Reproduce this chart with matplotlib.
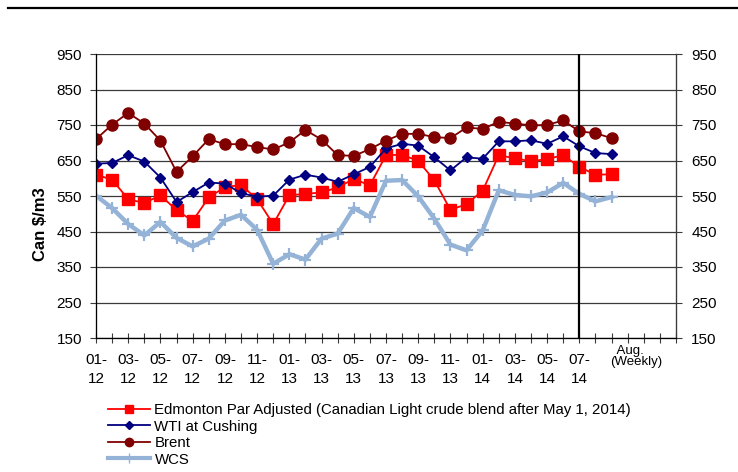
import matplotlib
matplotlib.use("Agg")
import matplotlib.pyplot as plt
from matplotlib.lines import Line2D

plt.rcParams['font.family'] = ['Liberation Sans', 'DejaVu Sans']

# ---- data (Can $/m3) ----
categories = ["01-\n12", "", "03-\n12", "", "05-\n12", "", "07-\n12", "", "09-\n12", "", "11-\n12", "",
              "01-\n13", "", "03-\n13", "", "05-\n13", "", "07-\n13", "", "09-\n13", "", "11-\n13", "",
              "01-\n14", "", "03-\n14", "", "05-\n14", "", "07-\n14", "", "", "", "", "", ""]

edmonton = [610, 596, 541, 530, 552, 510, 480, 546, 575, 581, 541, 471,
            552, 556, 560, 574, 598, 580, 665, 666, 649, 594, 511, 527,
            565, 665, 656, 648, 654, 665, 632, 610, 611]
wti = [641, 643, 665, 647, 602, 533, 561, 588, 585, 558, 548, 551,
       596, 610, 602, 590, 611, 632, 684, 697, 692, 659, 622, 659,
       655, 704, 704, 707, 697, 718, 690, 671, 668]
brent = [710, 751, 784, 754, 706, 618, 662, 710, 696, 696, 688, 681,
         701, 736, 709, 665, 663, 682, 706, 725, 725, 716, 713, 743,
         739, 759, 754, 749, 750, 763, 732, 727, 713]
wcs = [551, 516, 471, 439, 477, 432, 408, 430, 481, 497, 455, 359,
       386, 371, 430, 444, 516, 491, 593, 595, 549, 486, 413, 397,
       453, 566, 553, 549, 560, 587, 556, 535, 547]

series_names = ["Edmonton Par Adjusted (Canadian Light crude blend after May 1, 2014)",
                "WTI at Cushing", "Brent", "WCS"]
weekly_label = "  Aug.\n(Weekly)"
y_label = "Can $/m3"
y_ticks = [150, 250, 350, 450, 550, 650, 750, 850, 950]
split_index = 30

fig = plt.figure(figsize=(7.38, 4.72), dpi=100)
ax = fig.add_axes([96/738, 1-338/472, 580/738, 284/472])

x = list(range(len(edmonton)))

ax.plot(x, wcs, color='#95B3D7', lw=3.2, marker='+', ms=9, mew=1.6, zorder=3)
ax.plot(x, edmonton, color='#FF0000', lw=1.3, marker='s', ms=8, zorder=4)
ax.plot(x, wti, color='#000080', lw=1.3, marker='D', ms=5.5, zorder=5)
ax.plot(x, brent, color='#800000', lw=1.3, marker='o', ms=8, zorder=6)

ax.axvline(split_index, color='black', lw=1.6, zorder=7)

ax.set_xlim(0, len(categories) - 1)
ax.set_ylim(150, 950)
ax.set_yticks(y_ticks)
for v in y_ticks:
    ax.axhline(v, color='#3a3a3a', lw=0.9, zorder=1)

ax.set_xticks(range(len(categories)))
ax.set_xticklabels(categories, fontsize=11)
for lab in ax.get_xticklabels():
    lab.set_linespacing(1.45)
ax.tick_params(axis='x', direction='inout', length=7, width=0.8, pad=7, color='#3a3a3a')
ax.tick_params(axis='y', direction='out', length=4, width=0.8, pad=6, labelsize=11, color='#3a3a3a')

ax.spines['top'].set_visible(False)
for side in ['left', 'right', 'bottom']:
    ax.spines[side].set_color('#3a3a3a')
    ax.spines[side].set_linewidth(0.9)

ax2 = ax.twinx()
ax2.set_ylim(150, 950)
ax2.set_yticks(y_ticks)
ax2.tick_params(axis='y', direction='out', length=4, width=0.8, pad=7, labelsize=11, color='#3a3a3a')
ax2.spines['top'].set_visible(False)
ax2.spines['right'].set_color('#3a3a3a')

ax.set_ylabel(y_label, fontsize=12, fontweight='bold')
ax.yaxis.set_label_coords(-0.083, 0.40)

# weekly label
ax.text(33.5, 131, weekly_label, transform=ax.transData, fontsize=9.5,
        ha='center', va='top', multialignment='left', linespacing=0.9,
        clip_on=False)

# top rule
fig.add_artist(Line2D([8/738, 1.0], [1-8/472, 1-8/472], color='black', lw=1.6))

handles = [
    Line2D([], [], color='#FF0000', lw=1.3, marker='s', ms=6),
    Line2D([], [], color='#000080', lw=1.3, marker='D', ms=4),
    Line2D([], [], color='#800000', lw=1.3, marker='o', ms=6),
    Line2D([], [], color='#95B3D7', lw=3, marker='+', ms=7, mew=1),
]
fig.legend(handles, series_names, loc='upper left', bbox_to_anchor=(108/738, 1-403/472),
           frameon=False, fontsize=10.8, handlelength=2.8, handletextpad=0.3,
           labelspacing=0.17, borderpad=0, borderaxespad=0)

fig.savefig('out.png', dpi=100)
